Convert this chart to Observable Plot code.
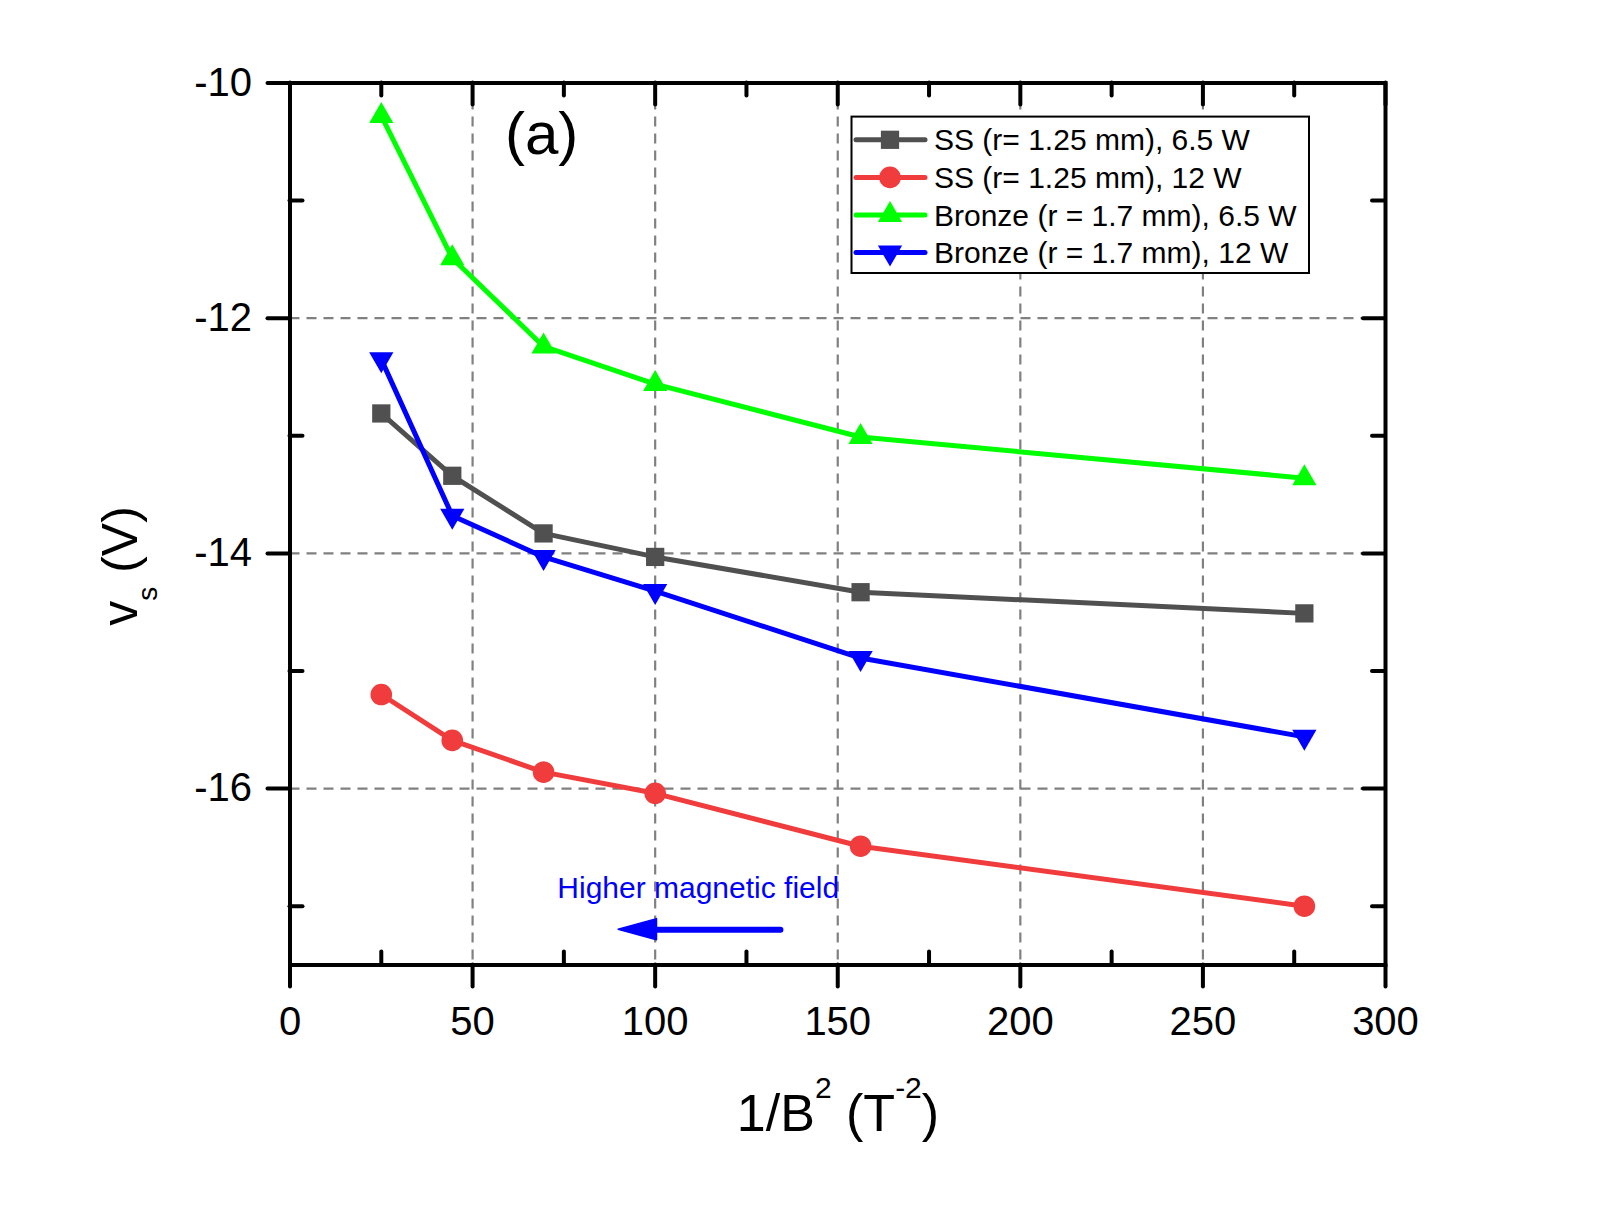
<!DOCTYPE html>
<html>
<head>
<meta charset="utf-8">
<script src="https://cdn.jsdelivr.net/npm/d3@7"></script>
<script src="https://cdn.jsdelivr.net/npm/@observablehq/plot@0.6"></script>
<style>
  html, body { margin: 0; padding: 0; background: #ffffff; }
  #chart svg { display: block; }
</style>
</head>
<body>
<div id="chart"></div>
<script>
// ---------- data ----------
const xValues = [25, 44.44, 69.44, 100, 156.25, 277.78];          // 1/B^2 (T^-2)
const ss65   = [-12.81, -13.34, -13.83, -14.03, -14.33, -14.51];
const ss12   = [-15.20, -15.59, -15.86, -16.04, -16.49, -17.00];
const br65   = [-10.28, -11.49, -12.24, -12.56, -13.01, -13.36];
const br12   = [-12.35, -13.68, -14.03, -14.32, -14.89, -15.56];

const seriesNames   = ["SS (r= 1.25 mm), 6.5 W", "SS (r= 1.25 mm), 12 W",
                       "Bronze (r = 1.7 mm), 6.5 W", "Bronze (r = 1.7 mm), 12 W"];
const seriesValues  = [ss65, ss12, br65, br12];
const seriesColors  = ["#505050", "#f03c3c", "#00ff00", "#0000ff"];
const seriesSymbols = ["square", "circle", "triangle", "triangle"];
const seriesRotate  = [0, 0, 0, 180];
const seriesRadius  = [10.3, 10.8, 9, 9];

const xMajor = [0, 50, 100, 150, 200, 250, 300];
const xMinor = [25, 75, 125, 175, 225, 275];
const yMajor = [-10, -12, -14, -16];
const yMinor = [-11, -13, -15, -17];
const xGrid  = [50, 100, 150, 200, 250];
const yGrid  = [-12, -14, -16];

const panelLabel = [{x: 68.9, y: -10.44, text: "(a)"}];
const noteLabel  = [{x: 73.2, y: -16.845, text: "Higher magnetic field"}];
const arrowShaft = [{x: 134.3, y: -17.2}, {x: 100, y: -17.2}];
const arrowHead  = [{x: 90, y1: -17.2, y2: -17.2}, {x: 100.5, y1: -17.29, y2: -17.11}];

// ---------- layout ----------
const W = 1609, H = 1232;
const mL = 289.5, mR = 224, mT = 82.5, mB = 267.5;
const pw = W - mL - mR, ph = H - mT - mB;
const FONT = "'Liberation Sans', Arial, Helvetica, sans-serif";

const table = seriesNames.map((name, i) =>
  xValues.map((x, j) => ({series: name, x, y: seriesValues[i][j]})));

const marks = [
  Plot.ruleX(xGrid, {stroke: "#808080", strokeWidth: 2.2, strokeDasharray: "10,7"}),
  Plot.ruleY(yGrid, {stroke: "#808080", strokeWidth: 2.2, strokeDasharray: "10,7"}),
];
table.forEach((rows, i) => {
  marks.push(Plot.line(rows, {x: "x", y: "y", stroke: seriesColors[i], strokeWidth: 5,
                              strokeLinejoin: "round", strokeLinecap: "round"}));
  marks.push(Plot.dot(rows, {x: "x", y: "y", symbol: seriesSymbols[i], r: seriesRadius[i],
                             fill: seriesColors[i], stroke: "none", rotate: seriesRotate[i]}));
});
const tk = {stroke: "black", strokeWidth: 4, strokeLinecap: "round"};
marks.push(
  Plot.frame({stroke: "black", strokeWidth: 4}),
  // bottom
  Plot.tickX(xMajor, {...tk, insetTop: ph, insetBottom: -22}),
  Plot.tickX(xMinor, {...tk, insetTop: ph - 13}),
  // top
  Plot.tickX(xMajor, {...tk, insetBottom: ph - 22}),
  Plot.tickX(xMinor, {...tk, insetBottom: ph - 13}),
  // left
  Plot.tickY(yMajor, {...tk, insetLeft: -22, insetRight: pw}),
  Plot.tickY(yMinor, {...tk, insetRight: pw - 13}),
  // right
  Plot.tickY(yMajor, {...tk, insetLeft: pw - 22}),
  Plot.tickY(yMinor, {...tk, insetLeft: pw - 13}),
  // tick labels
  Plot.text(xMajor, {x: d => d, frameAnchor: "bottom", dy: 70, text: d => String(d),
                     fontSize: 40, fill: "black", fontFamily: FONT}),
  Plot.text(yMajor, {y: d => d, frameAnchor: "left", dx: -38, textAnchor: "end",
                     text: d => String(d), fontSize: 40, fill: "black", fontFamily: FONT}),
  // annotations
  Plot.text(panelLabel, {x: "x", y: "y", text: "text", fontSize: 60, fill: "black", fontFamily: FONT}),
  Plot.text(noteLabel, {x: "x", y: "y", text: "text", textAnchor: "start", fontSize: 30,
                        fill: "#0000ff", fontFamily: FONT}),
  Plot.line(arrowShaft, {x: "x", y: "y", stroke: "#0000ff", strokeWidth: 6, strokeLinecap: "round"}),
  Plot.area(arrowHead, {x1: "x", y1: "y1", y2: "y2", fill: "#0000ff", stroke: "#0000ff",
                        strokeWidth: 1.5, strokeLinejoin: "round"})
);

const chart = Plot.plot({
  width: W, height: H,
  marginLeft: mL, marginRight: mR, marginTop: mT, marginBottom: mB,
  x: {domain: [0, 300], axis: null},
  y: {domain: [-17.5, -10], axis: null},
  style: {background: "#ffffff", fontFamily: FONT},
  marks
});
document.getElementById("chart").appendChild(chart);

// ---------- axis titles & legend ----------
const svg = d3.select(chart);

const xt = svg.append("text").attr("x", 838).attr("y", 1131).attr("text-anchor", "middle")
  .attr("font-family", FONT).attr("font-size", 52).attr("fill", "black");
xt.append("tspan").text("1/B");
xt.append("tspan").attr("font-size", 30).attr("dy", -33).text("2");
xt.append("tspan").attr("dy", 33).text(" (T");
xt.append("tspan").attr("font-size", 30).attr("dy", -33).text("-2");
xt.append("tspan").attr("dy", 33).text(")");

const yt = svg.append("text").attr("transform", "translate(137,566) rotate(-90)")
  .attr("text-anchor", "middle").attr("font-family", FONT).attr("font-size", 50).attr("fill", "black");
yt.append("tspan").text("v");
yt.append("tspan").attr("font-size", 28).attr("dy", 20).text("s");
yt.append("tspan").attr("dy", -20).text(" (V)");

const lg = svg.append("g");
lg.append("rect").attr("x", 851.5).attr("y", 116.6).attr("width", 457.5).attr("height", 156.4)
  .attr("fill", "white").attr("stroke", "black").attr("stroke-width", 2);
const rowY = [139.8, 177.4, 215, 252.6];
const symMap = {square: d3.symbolSquare, circle: d3.symbolCircle, triangle: d3.symbolTriangle};
seriesNames.forEach((name, i) => {
  const y = rowY[i];
  lg.append("line").attr("x1", 856).attr("x2", 925).attr("y1", y).attr("y2", y)
    .attr("stroke", seriesColors[i]).attr("stroke-width", 5).attr("stroke-linecap", "round");
  lg.append("path")
    .attr("d", d3.symbol().type(symMap[seriesSymbols[i]]).size(Math.PI * seriesRadius[i] ** 2)())
    .attr("transform", `translate(890,${y}) rotate(${seriesRotate[i]})`)
    .attr("fill", seriesColors[i]);
  lg.append("text").attr("x", 934).attr("y", y + 10.5).attr("text-anchor", "start")
    .attr("font-family", FONT).attr("font-size", 30).attr("fill", "black").text(name);
});
</script>
</body>
</html>
